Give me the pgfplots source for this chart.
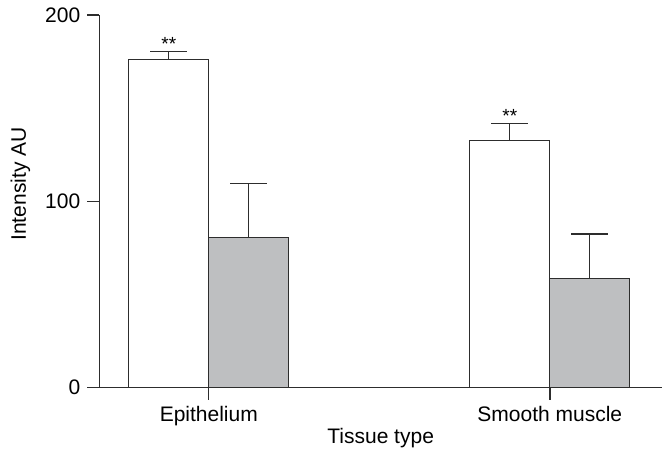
\documentclass[border=0pt]{standalone}
\usepackage{fontspec}
\setmainfont{Liberation Sans}
\usepackage{pgfplots}
\pgfplotsset{compat=1.18}
\definecolor{bargray}{RGB}{190,191,193}
\definecolor{linec}{RGB}{45,45,45}
\begin{document}
\begin{tikzpicture}
\begin{axis}[
 at={(49.65pt,30.65pt)}, anchor=south west,
 scale only axis, width=281.35pt, height=186.35pt,
 xmin=-0.321, xmax=1.329, ymin=0, ymax=200,
 axis x line=bottom, axis y line=left,
 axis line style={-, linec, line width=0.7pt},
 xtick={0,1}, xticklabels={Epithelium, Smooth muscle},
 ytick={0,100,200},
 tick align=outside, major tick length=6pt,
 tick style={linec, line width=0.7pt},
 /pgf/number format/assume math mode=true,
 font=\fontsize{10.5}{12}\selectfont,
 xlabel={Tissue type}, ylabel={Intensity AU},
 xlabel style={at={(axis description cs:0.5,0)}, anchor=center, yshift=-25.15pt},
 ylabel style={at={(axis description cs:-0.14,0.5466)}, anchor=center},
 ybar, bar width=40pt,
 clip=false,
]
\addplot[bar shift=-20pt, fill=white, draw=linec, line width=0.6pt,
 error bars/.cd, y dir=plus, y explicit,
 error bar style={linec, line width=0.6pt},
 error mark options={linec, line width=0.6pt, mark size=9.25pt, rotate=90}]
 coordinates {(0,176) +- (0,4.3) (1,132.7) +- (0,9.2)};
\addplot[bar shift=20pt, fill=bargray, draw=linec, line width=0.6pt,
 error bars/.cd, y dir=plus, y explicit,
 error bar style={linec, line width=0.6pt},
 error mark options={linec, line width=0.6pt, mark size=9.25pt, rotate=90}]
 coordinates {(0,80.5) +- (0,29.2) (1,58.7) +- (0,23.8)};
\node[font=\fontsize{9.5}{10}\selectfont, anchor=base, xshift=-20pt, inner sep=0pt] at (axis cs:0,181) {**};
\node[font=\fontsize{9.5}{10}\selectfont, anchor=base, xshift=-20pt, inner sep=0pt] at (axis cs:1,142.5) {**};
\end{axis}
\pgfresetboundingbox
\path (0,0) rectangle (331pt,224.5pt);
\end{tikzpicture}
\end{document}
